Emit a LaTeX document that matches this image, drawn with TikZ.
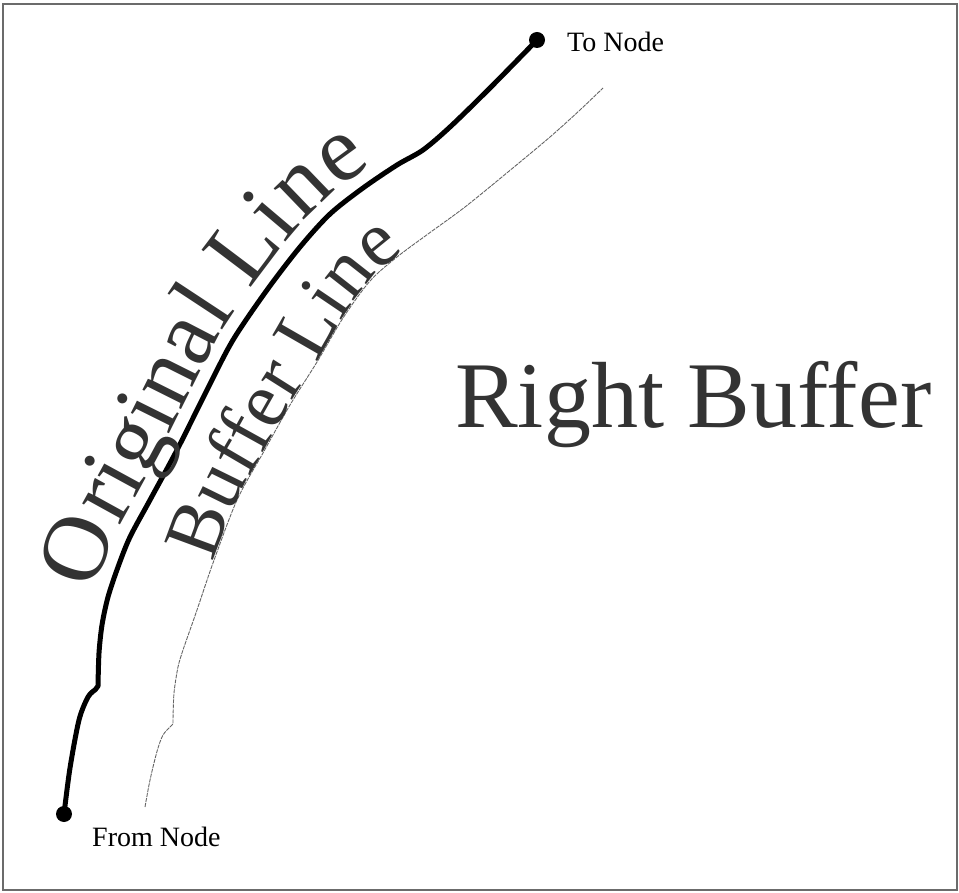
\documentclass[tikz,border=0pt]{standalone}
\usepackage{fontspec}
\setmainfont{Liberation Serif}
\usetikzlibrary{decorations.text}
\begin{document}
\begin{tikzpicture}[x=1pt,y=-1pt,
  frame/.style={draw=black!58,line width=2pt},
  endpoint/.style={circle,fill=black,inner sep=0pt,minimum size=16pt},
  smalllabel/.style={font=\fontsize{28}{30}\selectfont,text=black,inner sep=0pt},
  biglabel/.style={font=\fontsize{94}{94}\selectfont,text=black!80,inner sep=0pt},
  origline/.style={line width=5pt,line join=round,line cap=round},
  bufline/.style={line width=0.9pt,draw=black!60,dash pattern=on 4pt off 1pt},
  curvedtext/.style n args={3}{decorate,decoration={text along path,
      text format delimiters={|}{|},
      text={|\fontsize{#1}{#1}\selectfont\color{black!80}|#3},raise=#2}}]
\useasboundingbox (0,0) rectangle (959,893);
\draw[frame] (3,4) rectangle (957,890);

% end points of the original line
\node[endpoint] (from) at (64,814) {};
\node[endpoint] (to) at (537,40) {};
\node[smalllabel,anchor=base west] (fromlbl) at (92,846) {From Node};
\node[smalllabel,anchor=base west] (tolbl) at (567,52) {To Node};

% original line, with its small step near the bottom
\draw[origline] plot[smooth] coordinates {(from.center) (70,768) (79,720) (88,697) (95,690)}
  -- plot[smooth] coordinates {(98,686) (99,653) (102,625) (108,597) (118,567) (130,537)
     (150,500) (177,450) (207,390) (233,340) (267,290) (300,247) (330,214) (363,188)
     (397,165) (423,150) (450,127) (490,88) (to.center)};

% buffer line, offset to the right
\coordinate (bufstart) at (145,807);
\coordinate (bufend) at (603,88);
\draw[bufline] plot[smooth] coordinates {(bufstart) (149,785) (153,767) (158,748) (163,735) (170,727) (173,724)}
  -- plot[smooth] coordinates {(173,720) (174,693) (178,667) (183,650) (190,630) (197,610)
     (213,563) (237,500) (263,453) (290,405) (317,362) (343,318) (370,281) (397,257)
     (428,234) (465,207) (508,172) (550,137) (580,110) (bufend)};

% labels that follow the two lines
\path[curvedtext={94}{14pt}{Original Line}] plot[smooth] coordinates {(108,597) (118,567) (130,537)
     (150,500) (177,450) (207,390) (233,340) (267,290) (300,247) (330,214) (363,188)
     (397,165) (423,150) (450,127) (490,88) (to.center)};
\path[curvedtext={79}{0pt}{Buffer Line}] plot[smooth] coordinates {(213,563) (237,500) (263,453)
     (290,405) (317,362) (343,318) (370,281) (397,257) (428,234) (465,207) (508,172)
     (550,137) (580,110) (bufend)};

\node[biglabel,anchor=base west] (rightlbl) at (455,428) {Right Buffer};
\end{tikzpicture}
\end{document}
